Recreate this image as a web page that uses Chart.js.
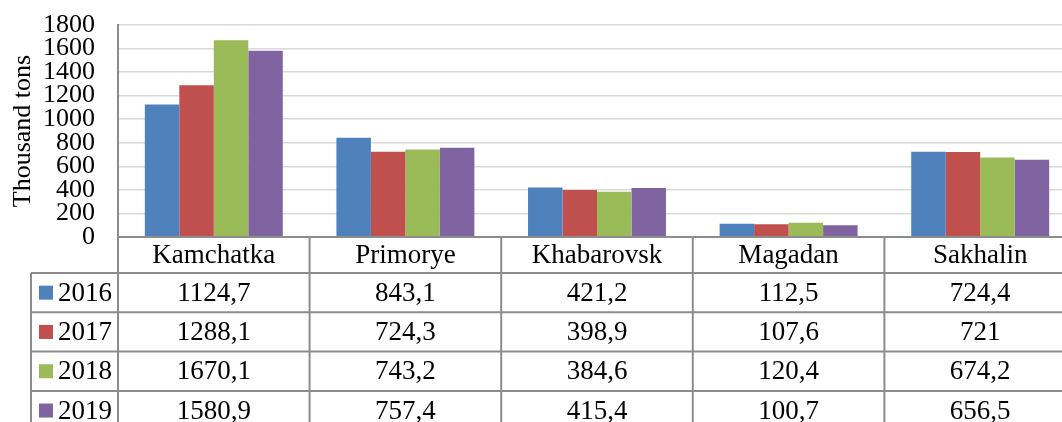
<!DOCTYPE html>
<html>
<head>
<meta charset="utf-8">
<script src="https://cdn.jsdelivr.net/npm/chart.js@4.4.1/dist/chart.umd.min.js"></script>
<style>
  html, body { margin: 0; padding: 0; background: #fff; overflow: hidden; }
  canvas { display: block; }
</style>
</head>
<body>
<canvas id="chart" width="1080" height="422"></canvas>
<script>
const regions = ['Kamchatka', 'Primorye', 'Khabarovsk', 'Magadan', 'Sakhalin'];
const years = ['2016', '2017', '2018', '2019'];
const catch2016 = [1124.7, 843.1, 421.2, 112.5, 724.4];
const catch2017 = [1288.1, 724.3, 398.9, 107.6, 721];
const catch2018 = [1670.1, 743.2, 384.6, 120.4, 674.2];
const catch2019 = [1580.9, 757.4, 415.4, 100.7, 656.5];
const yTicks = [0, 200, 400, 600, 800, 1000, 1200, 1400, 1600, 1800];

const colors = ['#4f81bd', '#c0504d', '#9bbb59', '#8064a2'];
const series = [catch2016, catch2017, catch2018, catch2019];
const FONT = '"Liberation Serif", "Times New Roman", serif';

// formats like the source table: comma decimal, no trailing ",0"
const fmt = v => String(v).replace('.', ',');

// data table under the plot, drawn in line with the x scale
const dataTable = {
  id: 'dataTable',
  afterDraw(chart) {
    const ctx = chart.ctx;
    const x = chart.scales.x;
    const area = chart.chartArea;
    const top = area.bottom;
    const headerBottom = top + 36;
    const rowH = 39.3;
    const legendLeft = 31;
    const colW = (area.right - area.left) / regions.length;

    ctx.save();
    ctx.strokeStyle = '#8c8c8c';
    ctx.lineWidth = 2;

    // horizontal lines
    ctx.beginPath();
    ctx.moveTo(area.left, top);
    ctx.lineTo(area.right, top);
    for (let r = 0; r < years.length; r++) {
      const y = headerBottom + r * rowH;
      ctx.moveTo(legendLeft, y);
      ctx.lineTo(area.right, y);
    }
    // vertical lines
    ctx.moveTo(legendLeft, headerBottom);
    ctx.lineTo(legendLeft, chart.height);
    for (let c = 0; c <= regions.length; c++) {
      const xx = area.left + c * colW;
      ctx.moveTo(xx, top);
      ctx.lineTo(xx, chart.height);
    }
    ctx.stroke();

    ctx.fillStyle = '#000';
    ctx.font = '27px ' + FONT;
    ctx.textAlign = 'center';
    ctx.textBaseline = 'middle';
    regions.forEach((name, i) => {
      ctx.fillText(name, x.getPixelForValue(i), (top + headerBottom) / 2 + 1);
    });

    years.forEach((yr, r) => {
      const cy = headerBottom + r * rowH + rowH / 2 + 1;
      ctx.fillStyle = colors[r];
      ctx.fillRect(39, cy - 8, 14, 14);
      ctx.fillStyle = '#000';
      ctx.textAlign = 'left';
      ctx.fillText(yr, 58, cy);
      ctx.textAlign = 'center';
      series[r].forEach((v, i) => {
        ctx.fillText(fmt(v), x.getPixelForValue(i), cy);
      });
    });
    ctx.restore();
  }
};

new Chart(document.getElementById('chart'), {
  type: 'bar',
  data: {
    labels: regions,
    datasets: years.map((yr, i) => ({
      label: yr,
      data: series[i],
      backgroundColor: colors[i],
      borderWidth: 0,
      categoryPercentage: 0.72,
      barPercentage: 1
    }))
  },
  options: {
    responsive: false,
    animation: false,
    events: [],
    layout: { padding: { top: 25, right: 4, bottom: 185, left: 0 } },
    plugins: {
      legend: { display: false },
      tooltip: { enabled: false }
    },
    scales: {
      x: { display: false },
      y: {
        min: 0,
        max: 1800,
        afterBuildTicks: axis => { axis.ticks = yTicks.map(v => ({ value: v })); },
        afterFit: axis => {
          axis.width = 118;
          // tick padding is horizontal here, don't let it push the top down
          axis.paddingTop = 0;
          axis.paddingBottom = 0;
        },
        ticks: {
          autoSkip: false,
          padding: 23,
          color: '#000',
          callback: v => String(v),
          font: { family: FONT, size: 26, lineHeight: 1 }
        },
        grid: { color: '#d9d9d9', lineWidth: 1.5, drawTicks: false },
        border: { color: '#8c8c8c', width: 2 },
        title: {
          display: true,
          text: 'Thousand tons',
          color: '#000',
          font: { family: FONT, size: 26 },
          padding: { top: 8, bottom: 0 }
        }
      }
    }
  },
  plugins: [dataTable]
});
</script>
</body>
</html>
